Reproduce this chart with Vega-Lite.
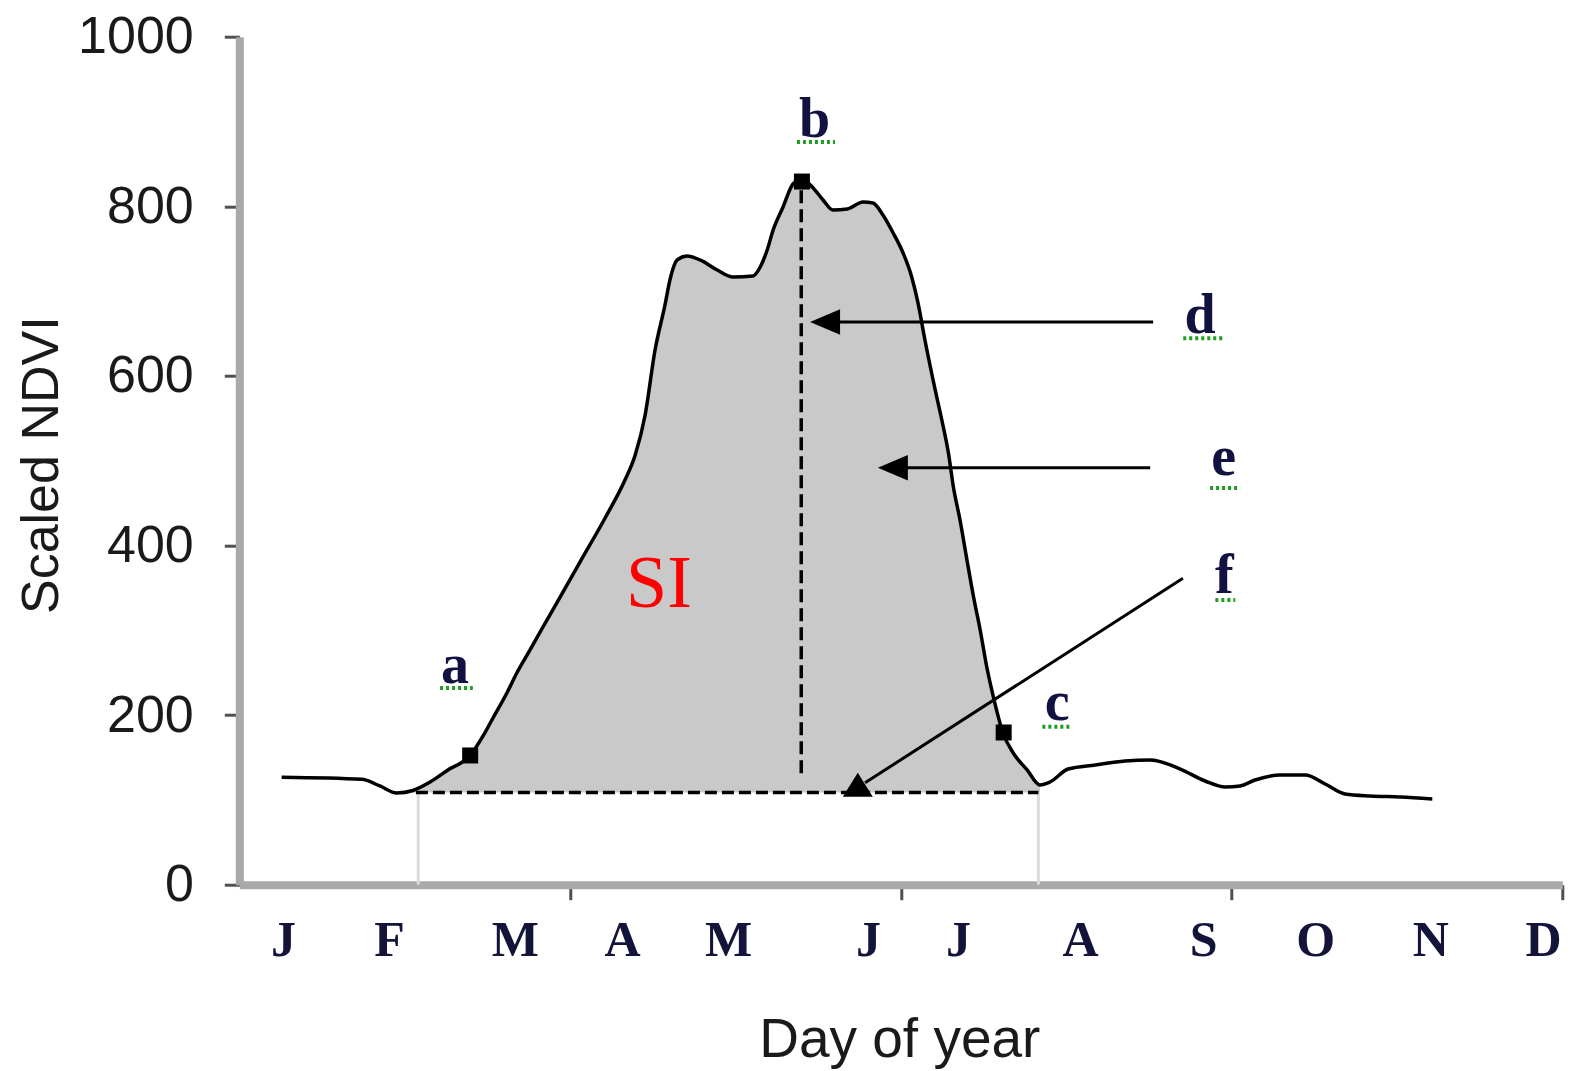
{
  "$schema": "https://vega.github.io/schema/vega-lite/v6.json",
  "width": 1323,
  "height": 848,
  "autosize": {"type": "none"},
  "padding": {"left": 239.3, "top": 36.7, "right": 10.7, "bottom": 186.3},
  "background": "white",
  "config": {
    "view": {"stroke": null},
    "axis": {"grid": false, "labelFont": "Liberation Sans", "titleFont": "Liberation Sans"}
  },
  "datasets": {
    "curve": [
      {"day": 12.8, "ndvi": 126.7}, {"day": 37.0, "ndvi": 124.3}, {"day": 42.5, "ndvi": 116.4},
      {"day": 47.6, "ndvi": 108.1}, {"day": 52.5, "ndvi": 111.1}, {"day": 57.7, "ndvi": 121.1},
      {"day": 63.1, "ndvi": 135.3}, {"day": 69.8, "ndvi": 152.4}, {"day": 73.7, "ndvi": 175.4},
      {"day": 76.7, "ndvi": 196.6}, {"day": 80.9, "ndvi": 226.1}, {"day": 83.9, "ndvi": 249.6},
      {"day": 87.9, "ndvi": 276.8}, {"day": 91.8, "ndvi": 303.9}, {"day": 96.0, "ndvi": 332.2},
      {"day": 103.0, "ndvi": 380.5}, {"day": 110.6, "ndvi": 432.4}, {"day": 116.6, "ndvi": 477.2},
      {"day": 119.7, "ndvi": 506.7}, {"day": 122.7, "ndvi": 553.9}, {"day": 125.7, "ndvi": 630.5},
      {"day": 128.7, "ndvi": 683.6}, {"day": 130.2, "ndvi": 713.1}, {"day": 132.4, "ndvi": 736.7},
      {"day": 135.4, "ndvi": 741.4}, {"day": 139.3, "ndvi": 736.7}, {"day": 144.5, "ndvi": 724.9},
      {"day": 149.3, "ndvi": 716.6}, {"day": 155.3, "ndvi": 717.8}, {"day": 157.5, "ndvi": 728.4},
      {"day": 159.6, "ndvi": 748.5}, {"day": 161.4, "ndvi": 772.1}, {"day": 164.4, "ndvi": 799.2},
      {"day": 167.4, "ndvi": 826.3}, {"day": 170.1, "ndvi": 832.2}, {"day": 173.5, "ndvi": 821.6},
      {"day": 176.5, "ndvi": 807.4}, {"day": 179.5, "ndvi": 795.6}, {"day": 183.8, "ndvi": 796.8},
      {"day": 188.6, "ndvi": 805.1}, {"day": 191.6, "ndvi": 803.9}, {"day": 194.6, "ndvi": 789.7},
      {"day": 197.7, "ndvi": 768.5}, {"day": 200.7, "ndvi": 744.9}, {"day": 203.3, "ndvi": 716.6},
      {"day": 205.2, "ndvi": 686.0}, {"day": 207.3, "ndvi": 642.3}, {"day": 210.4, "ndvi": 583.4},
      {"day": 212.4, "ndvi": 548.0}, {"day": 214.4, "ndvi": 509.1}, {"day": 215.9, "ndvi": 469.0},
      {"day": 217.9, "ndvi": 430.1}, {"day": 220.0, "ndvi": 382.9}, {"day": 222.0, "ndvi": 339.3},
      {"day": 224.0, "ndvi": 300.4}, {"day": 226.0, "ndvi": 256.7}, {"day": 228.0, "ndvi": 221.3},
      {"day": 230.9, "ndvi": 178.9}, {"day": 234.0, "ndvi": 155.3}, {"day": 238.2, "ndvi": 135.3},
      {"day": 242.1, "ndvi": 117.6}, {"day": 245.1, "ndvi": 121.1}, {"day": 250.6, "ndvi": 136.4},
      {"day": 258.8, "ndvi": 141.2}, {"day": 267.8, "ndvi": 145.9}, {"day": 275.4, "ndvi": 147.1},
      {"day": 284.5, "ndvi": 136.4}, {"day": 292.0, "ndvi": 122.3}, {"day": 298.1, "ndvi": 115.2},
      {"day": 302.6, "ndvi": 116.4}, {"day": 307.1, "ndvi": 123.5}, {"day": 314.7, "ndvi": 129.4},
      {"day": 322.3, "ndvi": 129.4}, {"day": 328.3, "ndvi": 118.8}, {"day": 334.3, "ndvi": 107.0},
      {"day": 341.9, "ndvi": 104.6}, {"day": 351.0, "ndvi": 103.4}, {"day": 360.7, "ndvi": 101.1}
    ],
    "limits": [
      {"day": 54.1, "ndvi": 0, "ndvi2": 108.7},
      {"day": 241.6, "ndvi": 0, "ndvi2": 108.7}
    ],
    "baseline": [{"day": 53.4, "day2": 241.6, "ndvi": 108.7}],
    "peakline": [{"day": 169.9, "ndvi": 819, "ndvi2": 129.4}],
    "arrows": [
      {"label": "d", "day": 177.1, "ndvi": 663.6, "day2": 276.3, "ndvi2": 663.6},
      {"label": "e", "day": 197.6, "ndvi": 491.7, "day2": 275.4, "ndvi2": 491.7},
      {"label": "f", "day": 189.2, "ndvi": 120.2, "day2": 285.3, "ndvi2": 361.3}
    ],
    "headsLeft": [
      {"label": "d", "day": 177.1, "ndvi": 663.6},
      {"label": "e", "day": 197.6, "ndvi": 491.7}
    ],
    "headUp": [{"label": "f", "day": 187.0, "ndvi": 117.8}],
    "points": [
      {"label": "a", "day": 69.8, "ndvi": 152.4},
      {"label": "b", "day": 170.1, "ndvi": 829.2},
      {"label": "c", "day": 231.1, "ndvi": 179.5}
    ],
    "labels": [
      {"label": "a", "day": 65.2, "ndvi": 237.5},
      {"label": "b", "day": 173.9, "ndvi": 882.1},
      {"label": "c", "day": 247.3, "ndvi": 194.2},
      {"label": "d", "day": 290.5, "ndvi": 650.6},
      {"label": "e", "day": 297.6, "ndvi": 482.7},
      {"label": "f", "day": 297.8, "ndvi": 344.0}
    ],
    "underlines": [
      {"label": "a", "day": 60.7, "day2": 70.6, "ndvi": 232.0},
      {"label": "b", "day": 168.6, "day2": 180.1, "ndvi": 875.8},
      {"label": "c", "day": 242.8, "day2": 251.8, "ndvi": 186.3},
      {"label": "d", "day": 285.4, "day2": 297.6, "ndvi": 644.3},
      {"label": "e", "day": 293.5, "day2": 302.6, "ndvi": 467.8},
      {"label": "f", "day": 295.1, "day2": 301.1, "ndvi": 335.7}
    ],
    "si": [{"label": "SI", "day": 126.9, "ndvi": 327.8}]
  },
  "layer": [
    {
      "data": {"name": "curve"},
      "transform": [{"filter": "datum.day >= 52 && datum.day <= 242.2"}],
      "mark": {"type": "area", "color": "#c9c9c9", "interpolate": "monotone"},
      "encoding": {
        "x": {"field": "day", "type": "quantitative", "scale": {"domain": [0, 400], "nice": false, "zero": false}, "axis": null},
        "y": {"field": "ndvi", "type": "quantitative", "scale": {"domain": [0, 1000], "nice": false, "zero": false}, "axis": null},
        "y2": {"datum": 108.7}
      }
    },
    {
      "data": {"name": "limits"},
      "mark": {"type": "rule", "color": "#dcdcdc", "strokeWidth": 3},
      "encoding": {
        "x": {
          "field": "day", "type": "quantitative",
          "scale": {"domain": [0, 400], "nice": false, "zero": false},
          "axis": {
            "orient": "bottom",
            "values": [13.2, 45.3, 83.3, 115.7, 147.8, 190.1, 217.3, 254.2, 291.4, 325.3, 360.1, 394.2],
            "labelExpr": "['J','F','M','A','M','J','J','A','S','O','N','D'][indexof([13.2, 45.3, 83.3, 115.7, 147.8, 190.1, 217.3, 254.2, 291.4, 325.3, 360.1, 394.2], datum.value)]",
            "domain": false, "ticks": false, "tickSize": 0, "labelPadding": 31,
            "labelFont": "Liberation Serif", "labelFontWeight": "bold", "labelFontSize": 50, "labelColor": "#14143a",
            "labelFlush": false, "labelOverlap": false, "labelBound": false,
            "title": "Day of year", "titleFont": "Liberation Sans", "titleFontSize": 55, "titleFontWeight": "normal",
            "titleColor": "#1a1a1a", "titleX": 660, "titleY": 172, "titleAlign": "center", "titleBaseline": "alphabetic"
          }
        },
        "y": {"field": "ndvi", "type": "quantitative", "scale": {"domain": [0, 1000], "nice": false, "zero": false}, "axis": null},
        "y2": {"field": "ndvi2"}
      }
    },
    {
      "data": {"name": "baseline"},
      "mark": {"type": "rule", "color": "black", "strokeWidth": 3.5, "strokeDash": [12, 5]},
      "encoding": {
        "x": {"field": "day", "type": "quantitative", "scale": {"domain": [0, 400], "nice": false, "zero": false}, "axis": null},
        "x2": {"field": "day2"},
        "y": {"field": "ndvi", "type": "quantitative", "scale": {"domain": [0, 1000], "nice": false, "zero": false}, "axis": null}
      }
    },
    {
      "data": {"name": "peakline"},
      "mark": {"type": "rule", "color": "black", "strokeWidth": 3.5, "strokeDash": [13, 6]},
      "encoding": {
        "x": {"field": "day", "type": "quantitative", "scale": {"domain": [0, 400], "nice": false, "zero": false}, "axis": null},
        "y": {"field": "ndvi", "type": "quantitative", "scale": {"domain": [0, 1000], "nice": false, "zero": false}, "axis": null},
        "y2": {"field": "ndvi2"}
      }
    },
    {
      "data": {"name": "curve"},
      "mark": {"type": "line", "color": "black", "strokeWidth": 3.5, "interpolate": "monotone"},
      "encoding": {
        "x": {
          "field": "day", "type": "quantitative",
          "scale": {"domain": [0, 400], "nice": false, "zero": false},
          "axis": {
            "orient": "bottom", "values": [100, 200, 300, 400], "labels": false, "title": null,
            "domainColor": "#a9a9a9", "domainWidth": 8, "tickColor": "#505050", "tickWidth": 3, "tickSize": 15
          }
        },
        "y": {
          "field": "ndvi", "type": "quantitative",
          "scale": {"domain": [0, 1000], "nice": false, "zero": false},
          "axis": {
            "orient": "left", "format": "d",
            "values": [0, 200, 400, 600, 800, 1000], "title": "Scaled NDVI",
            "domainColor": "#a9a9a9", "domainWidth": 8, "tickColor": "#505050", "tickWidth": 3, "tickSize": 15,
            "labelPadding": 31, "labelFont": "Liberation Sans", "labelFontSize": 52, "labelColor": "#1a1a1a",
            "labelFlush": false, "labelBound": false, "labelOverlap": false,
            "titleFont": "Liberation Sans", "titleFontSize": 52, "titleFontWeight": "normal", "titleColor": "#1a1a1a",
            "titleAngle": 270, "titleX": -182, "titleY": 428, "titleAlign": "center", "titleBaseline": "alphabetic"
          }
        }
      }
    },
    {
      "data": {"name": "arrows"},
      "mark": {"type": "rule", "color": "black", "strokeWidth": 3},
      "encoding": {
        "x": {"field": "day", "type": "quantitative", "scale": {"domain": [0, 400], "nice": false, "zero": false}, "axis": null},
        "x2": {"field": "day2"},
        "y": {"field": "ndvi", "type": "quantitative", "scale": {"domain": [0, 1000], "nice": false, "zero": false}, "axis": null},
        "y2": {"field": "ndvi2"}
      }
    },
    {
      "data": {"name": "headsLeft"},
      "mark": {"type": "point", "shape": "M-1,0L1,-0.85L1,0.85Z", "filled": true, "color": "black", "size": 900, "opacity": 1},
      "encoding": {
        "x": {"field": "day", "type": "quantitative", "scale": {"domain": [0, 400], "nice": false, "zero": false}, "axis": null},
        "y": {"field": "ndvi", "type": "quantitative", "scale": {"domain": [0, 1000], "nice": false, "zero": false}, "axis": null}
      }
    },
    {
      "data": {"name": "headUp"},
      "mark": {"type": "point", "shape": "M0,-0.8L1,0.8L-1,0.8Z", "filled": true, "color": "black", "size": 900, "opacity": 1},
      "encoding": {
        "x": {"field": "day", "type": "quantitative", "scale": {"domain": [0, 400], "nice": false, "zero": false}, "axis": null},
        "y": {"field": "ndvi", "type": "quantitative", "scale": {"domain": [0, 1000], "nice": false, "zero": false}, "axis": null}
      }
    },
    {
      "data": {"name": "points"},
      "mark": {"type": "point", "shape": "square", "filled": true, "color": "black", "size": 256, "opacity": 1},
      "encoding": {
        "x": {"field": "day", "type": "quantitative", "scale": {"domain": [0, 400], "nice": false, "zero": false}, "axis": null},
        "y": {"field": "ndvi", "type": "quantitative", "scale": {"domain": [0, 1000], "nice": false, "zero": false}, "axis": null}
      }
    },
    {
      "data": {"name": "underlines"},
      "mark": {"type": "rule", "color": "#1e9e1e", "strokeWidth": 4, "strokeDash": [3, 3]},
      "encoding": {
        "x": {"field": "day", "type": "quantitative", "scale": {"domain": [0, 400], "nice": false, "zero": false}, "axis": null},
        "x2": {"field": "day2"},
        "y": {"field": "ndvi", "type": "quantitative", "scale": {"domain": [0, 1000], "nice": false, "zero": false}, "axis": null}
      }
    },
    {
      "data": {"name": "labels"},
      "mark": {"type": "text", "font": "Liberation Serif", "fontWeight": "bold", "fontSize": 56, "color": "#121240", "align": "center", "baseline": "alphabetic"},
      "encoding": {
        "x": {"field": "day", "type": "quantitative", "scale": {"domain": [0, 400], "nice": false, "zero": false}, "axis": null},
        "y": {"field": "ndvi", "type": "quantitative", "scale": {"domain": [0, 1000], "nice": false, "zero": false}, "axis": null},
        "text": {"field": "label"}
      }
    },
    {
      "data": {"name": "si"},
      "mark": {"type": "text", "font": "Liberation Serif", "fontSize": 74, "color": "#ff0000", "align": "center", "baseline": "alphabetic"},
      "encoding": {
        "x": {"field": "day", "type": "quantitative", "scale": {"domain": [0, 400], "nice": false, "zero": false}, "axis": null},
        "y": {"field": "ndvi", "type": "quantitative", "scale": {"domain": [0, 1000], "nice": false, "zero": false}, "axis": null},
        "text": {"field": "label"}
      }
    }
  ],
  "resolve": {"axis": {"x": "independent", "y": "independent"}}
}
